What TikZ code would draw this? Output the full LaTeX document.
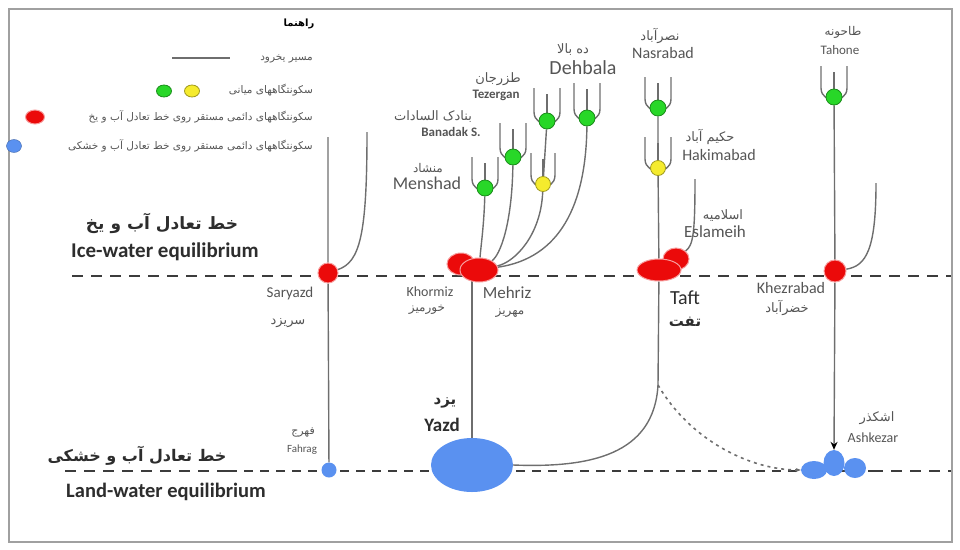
\documentclass[tikz,border=0pt]{standalone}
\usepackage{fontspec}
\setmainfont{Carlito}
\newfontfamily\farsi[Script=Arabic]{DejaVu Sans}
\TeXXeTstate=1
\newcommand{\fatxt}[1]{{\farsi\beginR #1\endR}}
\newcommand{\labsize}[1]{\fontsize{#1}{#1}\selectfont}
\usepackage{xcolor}
\usepackage{tikz}
\usetikzlibrary{arrows.meta, shapes.geometric, backgrounds, calc}

\definecolor{glacier}{RGB}{110,110,110}
\definecolor{eqline}{RGB}{60,60,60}
\definecolor{framegray}{RGB}{160,160,160}
\definecolor{settlegreen}{RGB}{40,215,40}
\definecolor{settleyellow}{RGB}{245,235,45}
\definecolor{settlered}{RGB}{235,10,10}
\definecolor{settleblue}{RGB}{90,145,240}
\definecolor{labelgray}{RGB}{85,85,85}
\definecolor{titlegray}{RGB}{45,45,45}

\begin{document}
\begin{tikzpicture}[x=1pt, y=-1pt, >={Stealth[length=8pt,width=7pt,black]},
    river/.style={draw=glacier, line width=1.4pt},
    eqdash/.style={draw=eqline, line width=2.6pt, dash pattern=on 11pt off 8pt},
    eqthin/.style={draw=eqline, line width=1.3pt, dash pattern=on 9pt off 7pt},
    greendot/.style={circle, fill=settlegreen, draw=settlegreen!65!black, line width=0.8pt, minimum size=16pt, inner sep=0pt},
    yellowdot/.style={circle, fill=settleyellow, draw=settleyellow!65!black, line width=0.8pt, minimum size=15pt, inner sep=0pt},
    redblob/.style={ellipse, fill=settlered, draw=settlered!40, line width=1pt, inner sep=0pt},
    blueblob/.style={ellipse, fill=settleblue, inner sep=0pt},
    lbl/.style={text=labelgray, inner sep=0pt},
    title/.style={text=titlegray, inner sep=0pt}]
    \useasboundingbox (0,0) rectangle (960,549);
    \draw[draw=framegray, line width=1.5pt] (9,9) rectangle (952,542);

    % legend
    \node[inner sep=0pt, font=\bfseries\labsize{10}] (legtitle) at (299,24) {\fatxt{راهنما}};
    \coordinate (legA) at (172,58);
    \coordinate (legB) at (230,58);
    \draw[river] (legA) -- (legB);
    \node[lbl, anchor=east, font=\labsize{10.5}] (legpath) at (313,59) {\fatxt{مسیر یخرود}};
    \node[greendot, ellipse, minimum width=15pt, minimum height=12pt] (leggreen) at (164,91) {};
    \node[yellowdot, ellipse, minimum width=15pt, minimum height=12pt] (legyellow) at (192,91) {};
    \node[lbl, anchor=east, font=\labsize{10.5}] (legmid) at (313,90) {\fatxt{سکونتگاههای میانی}};
    \node[redblob, minimum width=19pt, minimum height=14pt] (legred) at (35,117) {};
    \node[lbl, anchor=east, font=\labsize{10.5}] (legice) at (313,117) {\fatxt{سکونتگاههای دائمی مستقر روی خط تعادل آب و یخ}};
    \node[blueblob, draw=settleblue!70!black, minimum width=15pt, minimum height=13pt] (legblue) at (14,146) {};
    \node[lbl, anchor=east, font=\labsize{10.5}] (legland) at (313,146) {\fatxt{سکونتگاههای دائمی مستقر روی خط تعادل آب و خشکی}};

    % settlements
    \node[redblob, minimum size=20pt] (saryazd) at (328,273) {};
    \node[blueblob, minimum size=15pt] (fahrag) at (329,470) {};
    \node[redblob, minimum width=28pt, minimum height=22pt] (khormiz) at (461,264) {};
    \node[redblob, minimum width=38pt, minimum height=24pt] (mehriz) at (479,270) {};
    \node[blueblob, minimum width=82pt, minimum height=54pt] (yazd) at (472,465) {};
    \node[greendot] (menshad) at (485,188) {};
    \node[greendot] (banadak) at (513,157) {};
    \node[greendot] (tezergan) at (547,121) {};
    \node[yellowdot] (tezergandown) at (543,184) {};
    \node[greendot] (dehbala) at (587,118) {};
    \node[greendot] (nasrabad) at (658,108) {};
    \node[yellowdot] (hakimabad) at (658,168) {};
    \node[redblob, minimum width=26pt, minimum height=22pt] (eslameih) at (676,259) {};
    \node[redblob, minimum width=44pt, minimum height=22pt] (taft) at (659,270) {};
    \node[greendot] (tahone) at (834,97) {};
    \node[redblob, minimum size=22pt] (khezrabad) at (835,271) {};
    \node[blueblob, minimum width=26pt, minimum height=18pt] (ashkezara) at (814,470) {};
    \node[blueblob, minimum width=21pt, minimum height=26pt] (ashkezarb) at (834,463) {};
    \node[blueblob, minimum width=22pt, minimum height=20pt] (ashkezarc) at (855,468) {};

    \coordinate (saryazdtop) at (328,137);
    \coordinate (saryazdarm) at (367,132);
    \coordinate (eslsrc) at (695,179);
    \coordinate (khezsrc) at (876,183);
    \coordinate (taftbend) at (658,385);
    \coordinate (icewL) at (72,276);
    \coordinate (icewR) at (952,276);
    \coordinate (landL) at (65,471);
    \coordinate (landM1) at (228,471);
    \coordinate (landM2) at (872,471);
    \coordinate (landR) at (952,471);

    \begin{scope}[on background layer]
        \draw[eqdash] (icewL) -- (icewR);
        \draw[eqdash] (landL) -- (landM1);
        \draw[eqthin] (landM1) -- (landM2);
        \draw[eqdash] (landM2) -- (landR);

        \draw[river] (saryazdtop) -- (saryazd) -- (fahrag);
        \draw[river] (saryazdarm) .. controls (367,235) and (360,262) .. (saryazd);
        \draw[river] (menshad) .. controls (484,225) and (481,245) .. (mehriz);
        \draw[river] (banadak) .. controls (512,225) and (500,255) .. (mehriz);
        \draw[river] (tezergan) -- (tezergandown);
        \draw[river] (tezergandown) .. controls (541,235) and (515,262) .. (mehriz);
        \draw[river] (dehbala) .. controls (586,205) and (560,258) .. (mehriz);
        \draw[river] (yazd |- mehriz) -- (yazd);
        \draw[river] (nasrabad) -- (hakimabad) -- (taft) -- (taftbend)
            .. controls (654,455) and (590,468) .. (yazd.east);
        \draw[river, dash pattern=on 3pt off 4pt, line width=1.6pt, -{Stealth[length=5pt,width=4pt]}]
            (taftbend) .. controls (690,440) and (750,470) .. (ashkezara.west);
        \draw[river] (eslsrc) .. controls (695,235) and (693,245) .. (eslameih);
        \draw[river] (tahone) -- (khezrabad);
        \draw[river, ->] (khezrabad) -- (ashkezarb.north);
        \draw[river] (khezsrc) .. controls (876,250) and (866,266) .. (khezrabad);

        % glacier forks above the settlements
        \foreach \s/\w/\h in {menshad/13/31, banadak/13/34, tezergan/13/33, tezergandown/12/31,
                              dehbala/13/35, nasrabad/13/31, hakimabad/13/31, tahone/13/31} {
            \draw[river] ($(\s)+(-\w,-\h)$) -- ($(\s)+(-\w,-9)$)
                .. controls ($(\s)+(-\w,0)$) and ($(\s)+(-5,3)$) .. ($(\s)+(0,3)$)
                .. controls ($(\s)+(5,3)$) and ($(\s)+(\w,0)$) .. ($(\s)+(\w,-9)$)
                -- ($(\s)+(\w,-\h)$);
            \draw[river] ($(\s)+(0,-\h+6)$) -- (\s);
        }
    \end{scope}

    % equilibrium lines
    \node[title, font=\bfseries\labsize{17}] (icefa) at (162,223) {\fatxt{خط تعادل آب و یخ}};
    \node[title, font=\bfseries\labsize{21}] (iceen) at (165,252) {Ice-water equilibrium};
    \node[title, font=\bfseries\labsize{16}] (landfa) at (137,456) {\fatxt{خط تعادل آب و خشکی}};
    \node[title, font=\bfseries\labsize{20.5}] (landen) at (166,492) {Land-water equilibrium};

    % place names
    \node[lbl, font=\labsize{15}] (saryazden) at (290,293) {Saryazd};
    \node[lbl, font=\labsize{13}] (saryazdfa) at (288,323) {\fatxt{سریزد}};
    \node[lbl, font=\labsize{11}] (fahragfa) at (303,432) {\fatxt{فهرج}};
    \node[lbl, font=\labsize{11}] (fahragen) at (302,450) {Fahrag};
    \node[lbl, font=\labsize{14}] (khormizen) at (430,292) {Khormiz};
    \node[lbl, font=\labsize{12}] (khormizfa) at (427,310) {\fatxt{خورمیز}};
    \node[lbl, font=\labsize{17}] (mehrizen) at (507,293) {Mehriz};
    \node[lbl, font=\labsize{12}] (mehrizfa) at (510,313) {\fatxt{مهریز}};
    \node[title, font=\bfseries\labsize{15}] (yazdfa) at (445,403) {\fatxt{یزد}};
    \node[title, font=\bfseries\labsize{19}] (yazden) at (442,425) {Yazd};
    \node[lbl, font=\labsize{18}] (menshaden) at (427,183) {Menshad};
    \node[lbl, font=\labsize{12}] (menshadfa) at (428,168) {\fatxt{منشاد}};
    \node[lbl, font=\bfseries\labsize{13}] (banadaken) at (451,132) {Banadak S.};
    \node[lbl, font=\labsize{13}] (banadakfa) at (433,117) {\fatxt{بنادک السادات}};
    \node[lbl, font=\bfseries\labsize{13}] (tezerganen) at (496,95) {Tezergan};
    \node[lbl, font=\labsize{13}] (tezerganfa) at (498,79) {\fatxt{طزرجان}};
    \node[lbl, font=\labsize{20}] (dehbalaen) at (583,68) {Dehbala};
    \node[lbl, font=\labsize{13}] (dehbalafa) at (573,50) {\fatxt{ده بالا}};
    \node[lbl, font=\labsize{16}] (nasrabaden) at (663,53) {Nasrabad};
    \node[lbl, font=\labsize{13}] (nasrabadfa) at (660,36) {\fatxt{نصرآباد}};
    \node[lbl, font=\labsize{16}] (hakimabaden) at (719,155) {Hakimabad};
    \node[lbl, font=\labsize{13}] (hakimabadfa) at (710,137) {\fatxt{حکیم آباد}};
    \node[lbl, font=\labsize{17}] (eslameihen) at (715,232) {Eslameih};
    \node[lbl, font=\labsize{13}] (eslameihfa) at (723,216) {\fatxt{اسلامیه}};
    \node[title, font=\labsize{20}] (taften) at (685,298) {Taft};
    \node[title, font=\bfseries\labsize{15}] (taftfa) at (685,322) {\fatxt{تفت}};
    \node[lbl, font=\labsize{13}] (tahoneen) at (840,50) {Tahone};
    \node[lbl, font=\labsize{12}] (tahonefa) at (843,32) {\fatxt{طاحونه}};
    \node[lbl, font=\labsize{16}] (khezrabaden) at (791,288) {Khezrabad};
    \node[lbl, font=\labsize{13}] (khezrabadfa) at (787,308) {\fatxt{خضرآباد}};
    \node[lbl, font=\labsize{14}] (ashkezaren) at (873,438) {Ashkezar};
    \node[lbl, font=\labsize{13}] (ashkezarfa) at (877,418) {\fatxt{اشکذر}};
\end{tikzpicture}
\end{document}
